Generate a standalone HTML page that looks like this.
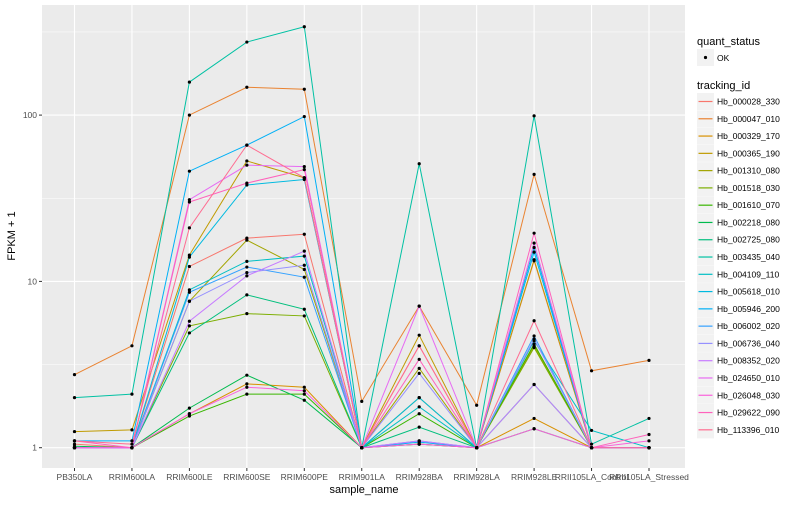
<!DOCTYPE html>
<html><head><meta charset="utf-8"><style>
body{margin:0;background:#fff;font-family:"Liberation Sans",Arial,sans-serif}
svg text{font-family:"Liberation Sans",Arial,sans-serif}
</style></head><body>
<svg id="chart" width="800" height="500">
<rect x="0" y="0" width="800" height="500" fill="#fff"/>
<rect id="panel" x="42" y="5" width="643" height="463" fill="#EBEBEB"/>
<g id="grid"></g><g id="lines"></g><g id="pts"></g><g id="axes"></g><g id="legend"></g>
<text x="364" y="493" font-size="11" text-anchor="middle" fill="#000">sample_name</text>
<text transform="translate(15,236) rotate(-90)" font-size="11" text-anchor="middle" fill="#000">FPKM + 1</text>
</svg>
<script>
const categories=["PB350LA","RRIM600LA","RRIM600LE","RRIM600SE","RRIM600PE","RRIM901LA","RRIM928BA","RRIM928LA","RRIM928LE","RRII105LA_Control","RRII105LA_Stressed"];
const seriesNames=["Hb_000028_330","Hb_000047_010","Hb_000329_170","Hb_000365_190","Hb_001310_080","Hb_001518_030","Hb_001610_070","Hb_002218_080","Hb_002725_080","Hb_003435_040","Hb_004109_110","Hb_005618_010","Hb_005946_200","Hb_006002_020","Hb_006736_040","Hb_008352_020","Hb_024650_010","Hb_026048_030","Hb_029622_090","Hb_113396_010"];
const s01=[1.05,1.0,12.3,18.2,19.2,1.0,4.1,1.0,13.3,1.0,1.0];
const s02=[2.75,4.1,100,147,143,1.9,7.1,1.8,44,2.9,3.35];
const s03=[1.0,1.0,1.6,2.42,2.31,1.0,1.05,1.0,1.5,1.0,1.0];
const s04=[1.25,1.28,14.4,53,42,1.0,4.75,1.0,13.5,1.0,1.0];
const s05=[1.0,1.0,7.6,17.7,11.8,1.0,3.0,1.0,4.1,1.0,1.0];
const s06=[1.0,1.0,5.4,6.4,6.2,1.0,2.0,1.0,4.0,1.0,1.0];
const s07=[1.0,1.0,1.55,2.1,2.1,1.0,1.6,1.0,4.2,1.0,1.0];
const s08=[1.02,1.0,1.73,2.73,1.93,1.0,1.05,1.0,1.3,1.0,1.0];
const s09=[1.0,1.0,4.9,8.3,6.8,1.0,1.33,1.0,2.4,1.0,1.0];
const s10=[2.0,2.1,158,275,340,1.0,51,1.0,99,1.05,1.5];
const s11=[1.0,1.0,8.9,13.2,14.2,1.0,1.76,1.0,4.4,1.27,1.0];
const s12=[1.0,1.0,14,38,41,1.0,2.0,1.0,16,1.0,1.0];
const s13=[1.1,1.1,46,66,98,1.0,1.08,1.0,15,1.0,1.0];
const s14=[1.0,1.0,8.6,12.2,10.6,1.0,1.1,1.0,4.7,1.0,1.0];
const s15=[1.0,1.0,7.6,11.3,12.5,1.0,2.8,1.0,4.5,1.0,1.0];
const s16=[1.0,1.0,5.76,10.8,15.2,1.0,1.1,1.0,2.4,1.0,1.0];
const s17=[1.0,1.0,31,50,49,1.0,7.1,1.0,17,1.0,1.0];
const s18=[1.0,1.0,1.6,2.31,2.2,1.0,1.05,1.0,1.3,1.0,1.1];
const s19=[1.1,1.0,30,39,47,1.0,3.4,1.0,19.5,1.0,1.2];
const s20=[1.1,1.05,21,66,42,1.0,4.1,1.0,5.8,1.0,1.0];
const seriesValues=[s01,s02,s03,s04,s05,s06,s07,s08,s09,s10,s11,s12,s13,s14,s15,s16,s17,s18,s19,s20];
const yTicks=[1,10,100];
const yTickLabels=["1","10","100"];
const colors=["#F8766D","#EA8331","#D89000","#C09B00","#A3A500","#7CAE00","#39B600","#00BB4E","#00BF7D","#00C1A3","#00BFC4","#00BAE0","#00B0F6","#35A2FF","#9590FF","#C77CFF","#E76BF3","#FA62DB","#FF62BC","#FF6C91"];
const NS="http://www.w3.org/2000/svg";
const X0=74.5,DX=57.45,Y1=447.7,DEC=166.3;
function xs(i){return X0+i*DX;}
function ys(v){return Y1-DEC*Math.log10(v);}
function mk(tag,attrs,parent){const e=document.createElementNS(NS,tag);for(const k in attrs)e.setAttribute(k,attrs[k]);parent.appendChild(e);return e;}
const grid=document.getElementById('grid'),lines=document.getElementById('lines'),pts=document.getElementById('pts'),axes=document.getElementById('axes'),legend=document.getElementById('legend');
for(let d=-0.5;d<=2.5;d+=1){const y=Y1-DEC*d;if(y>5&&y<468){const g=mk('line',{x1:42,x2:685,y1:y,y2:y,stroke:'#fff','stroke-width':0.5},grid);

}}
yTicks.forEach((t,i)=>{const y=ys(t);const g=mk('line',{x1:42,x2:685,y1:y,y2:y,stroke:'#fff','stroke-width':1.1},grid);


const tk=mk('line',{x1:39,x2:42,y1:y,y2:y,stroke:'#333','stroke-width':1},axes);


const tx=mk('text',{x:37,y:y+3,'font-size':8.5,'text-anchor':'end',fill:'#4D4D4D'},axes);tx.textContent=yTickLabels[i];

});
categories.forEach((c,i)=>{const x=xs(i);const g=mk('line',{x1:x,x2:x,y1:5,y2:468,stroke:'#fff','stroke-width':1.1},grid);


const tk=mk('line',{x1:x,x2:x,y1:468,y2:471,stroke:'#333','stroke-width':1},axes);


const tx=mk('text',{x:x,y:480,'font-size':8.5,'text-anchor':'middle',fill:'#4D4D4D'},axes);tx.textContent=c;

});
seriesValues.forEach((vals,si)=>{const p=mk('polyline',{points:vals.map((v,i)=>xs(i)+','+ys(v)).join(' '),fill:'none',stroke:colors[si],'stroke-width':1},lines);


vals.forEach((v,i)=>{const c=mk('circle',{cx:xs(i),cy:ys(v),r:1.6,fill:'#000'},pts);

});});
let t=mk('text',{x:697,y:45,'font-size':11,fill:'#000'},legend);t.textContent='quant_status';


let r=mk('rect',{x:697,y:49,width:17,height:17,fill:'#F2F2F2'},legend);


let c=mk('circle',{cx:705.5,cy:57.5,r:1.6,fill:'#000'},legend);


t=mk('text',{x:717,y:61,'font-size':8.5,fill:'#000'},legend);t.textContent='OK';


t=mk('text',{x:697,y:89,'font-size':11,fill:'#000'},legend);t.textContent='tracking_id';


seriesNames.forEach((n,i)=>{const y=93+i*17.28;
const k=mk('rect',{x:697,y:y,width:17,height:17,fill:'#F2F2F2'},legend);


const l=mk('line',{x1:698.5,x2:712.5,y1:y+8.5,y2:y+8.5,stroke:colors[i],'stroke-width':1.2},legend);


const tx=mk('text',{x:717,y:y+11.5,'font-size':8.5,fill:'#000'},legend);tx.textContent=n;

});
</script>
</body></html>
